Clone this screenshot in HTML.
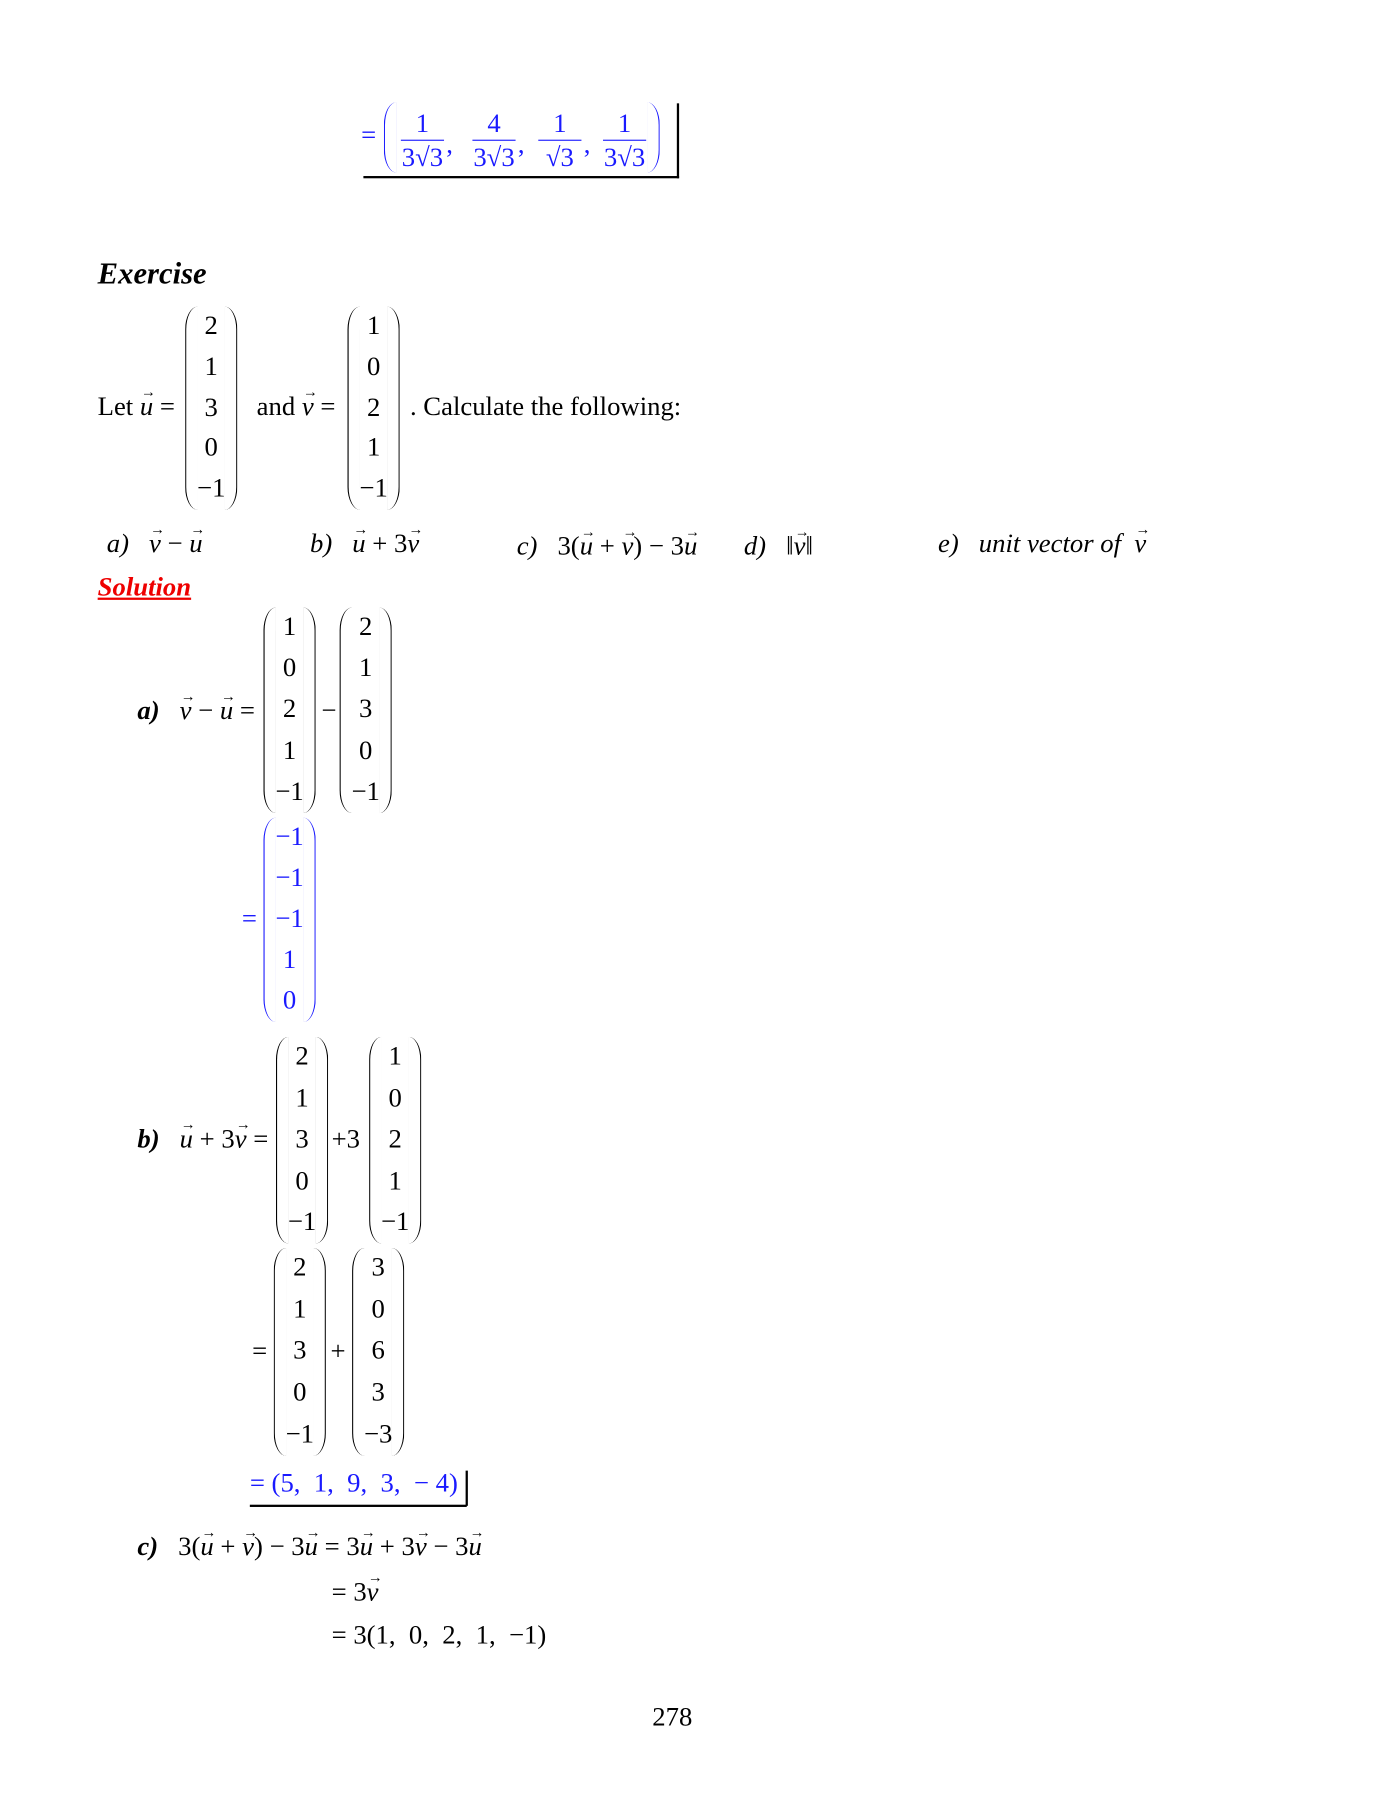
<!DOCTYPE html>
<html><head><meta charset="utf-8"><style>
html,body{margin:0;padding:0;background:#fff;}
body{width:1390px;height:1800px;overflow:hidden;position:relative;}
#pg{position:absolute;left:0;top:0;width:1224px;height:1584px;transform:scale(1.13562);transform-origin:0 0;font-family:"Liberation Serif",serif;font-size:23.5px;color:#000;}
.t{position:absolute;white-space:nowrap;line-height:1;transform:translateY(-50%);}
.c{transform:translate(-50%,-50%);}
.i{font-style:italic;}
.b{color:#1a1aff;}
.vec{position:relative;display:inline-block;font-style:italic;}
.vec::before{content:"→";position:absolute;left:1px;top:-9px;font-size:13px;font-style:normal;}
.pl,.pr{position:absolute;width:10px;border:0 solid currentColor;}
.pl{border-left-width:1.4px;border-radius:12px 0 0 12px/22px 0 0 22px;}
.pr{border-right-width:1.4px;border-radius:0 12px 12px 0/0 22px 22px 0;}
.ln{position:absolute;background:#000;}
</style></head><body>
<div id="pg">

<div class="t b" style="left:318px;top:120px">=</div>
<div class="pl" style="left:338px;top:90px;height:62px;color:#1a1aff"></div>
<div class="pr" style="left:570px;top:90px;height:62px;color:#1a1aff"></div>
<div class="ln" style="left:320px;top:155px;width:278px;height:2px"></div>
<div class="ln" style="left:596px;top:91px;width:2px;height:66px"></div>

<div class="t i" style="left:86px;top:241px;font-size:27px;font-weight:bold">Exercise</div>

<div class="t" style="left:86px;top:359px">Let <span class="vec">u</span> =</div>
<div class="t" style="left:226px;top:359px">and <span class="vec">v</span> =</div>
<div class="t" style="left:361px;top:359px">. Calculate the following:</div>

<div class="t i" style="left:94px;top:480px">a)&nbsp;&nbsp; <span class="vec">v</span> <span style="font-style:normal">−</span> <span class="vec">u</span></div>
<div class="t i" style="left:273px;top:480px">b)&nbsp;&nbsp; <span class="vec">u</span> <span style="font-style:normal">+ 3</span><span class="vec">v</span></div>
<div class="t i" style="left:455px;top:482px">c)&nbsp;&nbsp; <span style="font-style:normal">3(</span><span class="vec">u</span> <span style="font-style:normal">+</span> <span class="vec">v</span><span style="font-style:normal">) − 3</span><span class="vec">u</span></div>
<div class="t i" style="left:655px;top:482px">d)&nbsp;&nbsp; <span style="font-style:normal">‖</span><span class="vec">v</span><span style="font-style:normal">‖</span></div>
<div class="t i" style="left:826px;top:480px">e)&nbsp;&nbsp; unit vector of&nbsp; <span class="vec">v</span></div>

<div class="t i" style="left:86px;top:518px;color:#e00;font-weight:bold;text-decoration:underline">Solution</div>

<div class="t" style="left:121px;top:627px"><b><i>a)</i></b>&nbsp;&nbsp; <span class="vec">v</span> − <span class="vec">u</span> =</div>
<div class="t" style="left:283px;top:627px">−</div>
<div class="t b" style="left:213px;top:810px">=</div>

<div class="t" style="left:121px;top:1004px"><b><i>b)</i></b>&nbsp;&nbsp; <span class="vec">u</span> + 3<span class="vec">v</span> =</div>
<div class="t" style="left:292px;top:1004px">+3</div>
<div class="t" style="left:222px;top:1191px">=</div>
<div class="t" style="left:291px;top:1191px">+</div>
<div class="t b" style="left:220px;top:1307px">= (5,&nbsp; 1,&nbsp; 9,&nbsp; 3,&nbsp; − 4)</div>
<div class="ln" style="left:220px;top:1325px;width:191px;height:1.5px"></div>
<div class="ln" style="left:410px;top:1295px;width:1.5px;height:31px"></div>

<div class="t" style="left:121px;top:1363px"><b><i>c)</i></b>&nbsp;&nbsp; 3(<span class="vec">u</span> + <span class="vec">v</span>) − 3<span class="vec">u</span> = 3<span class="vec">u</span> + 3<span class="vec">v</span> − 3<span class="vec">u</span></div>
<div class="t" style="left:292px;top:1403px">= 3<span class="vec">v</span></div>
<div class="t" style="left:292px;top:1441px">= 3(1,&nbsp; 0,&nbsp; 2,&nbsp; 1,&nbsp; −1)</div>

<div class="t c" style="left:592px;top:1513px">278</div>
</div>
<script>
const pg=document.getElementById('pg');
function add(html,cls,style){const d=document.createElement('div');d.className=cls;d.style.cssText=style;d.innerHTML=html;pg.appendChild(d);return d;}
const fracNum=['1','4','1','1'];
const fracDen=['3√3','3√3','√3','3√3'];
const fracX=[372,435,493,550];
for(let k=0;k<4;k++){
  const n=add(fracNum[k],'t c b','left:'+fracX[k]+'px;top:110px');
  
  
  const l=add('','ln','left:'+(fracX[k]-19)+'px;top:123px;width:38px;height:1.3px;background:#1a1aff');
  
  
  const d=add(fracDen[k],'t c b','left:'+fracX[k]+'px;top:140px');
  
  
  if(k<3){const c=add(',','t b','left:'+(fracX[k]+21)+'px;top:128px');
  
  }
}
function mat(cx,y0,dy,vals,color,name){
  const top=y0-18, h=dy*(vals.length-1)+36;
  const L=add('','pl','left:'+(cx-23)+'px;top:'+top+'px;height:'+h+'px;color:'+color);
  
  
  const R=add('','pr','left:'+(cx+12)+'px;top:'+top+'px;height:'+h+'px;color:'+color);
  
  
  vals.forEach((v,i)=>{
    const e=add(v,'t c','left:'+cx+'px;top:'+(y0+i*dy)+'px;color:'+color);
    
    
  });
}
const uVals=['2','1','3','0','−1'];
const vVals=['1','0','2','1','−1'];
const diffVals=['−1','−1','−1','1','0'];
const threeV=['3','0','6','3','−3'];
mat(186,288,35.8,uVals,'#000','vector-u');
mat(329,288,35.8,vVals,'#000','vector-v');
mat(255,553,36.2,vVals,'#000','sol-a-v');
mat(322,553,36.2,uVals,'#000','sol-a-u');
mat(255,738,36,diffVals,'#1a1aff','sol-a-result');
mat(266,931,36.5,uVals,'#000','sol-b-u');
mat(348,931,36.5,vVals,'#000','sol-b-v');
mat(264,1117,36.7,uVals,'#000','sol-b-u2');
mat(333,1117,36.7,threeV,'#000','sol-b-3v');
</script>
</body></html>
